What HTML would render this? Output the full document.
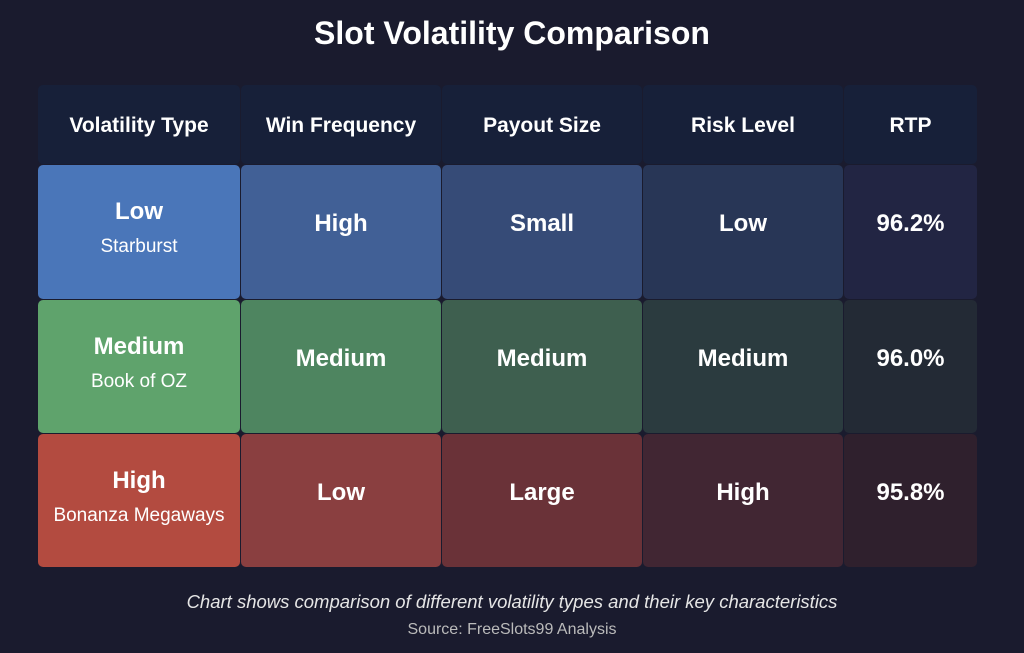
<!DOCTYPE html>
<html><head><meta charset="utf-8"><style>
body{margin:0;width:1024px;height:653px;background:#1a1b2e;font-family:"Liberation Sans",sans-serif;color:#fff;position:relative;overflow:hidden}
.t{position:absolute;top:15px;left:0;width:1024px;text-align:center;font-size:32px;font-weight:bold}
.c{position:absolute;border-radius:5px;display:flex;flex-direction:column;align-items:center;justify-content:center;font-weight:bold;font-size:24px;box-sizing:border-box;padding-bottom:16px}
.h{font-size:21px;background:#172039;padding-bottom:0;padding-top:2px}
.ty{padding-bottom:8px}
.s{font-size:19px;font-weight:normal;margin-top:10px}
.cap{position:absolute;top:591px;width:1024px;text-align:center;font-style:italic;font-size:18.5px;color:#e6e6e6}
.src{position:absolute;top:621px;width:1024px;text-align:center;font-size:16px;color:#bbb}
</style></head><body>
<div class="t">Slot Volatility Comparison</div>
<div id="g"></div>
<div class="cap">Chart shows comparison of different volatility types and their key characteristics</div>
<div class="src">Source: FreeSlots99 Analysis</div>
<script>
const headers=["Volatility Type","Win Frequency","Payout Size","Risk Level","RTP"];
const types=["Low","Medium","High"];
const examples=["Starburst","Book of OZ","Bonanza Megaways"];
const winFreq=["High","Medium","Low"];
const payout=["Small","Medium","Large"];
const risk=["Low","Medium","High"];
const rtp=[96.2,96.0,95.8];
const colors=[["#4a76b9","#416096","#364b77","#283656","#222543"],["#5fa36c","#4e8560","#3e5f4f","#2b3b3f","#232a35"],["#b34b40","#8a3f40","#6a3238","#412633","#2f202d"]];
const xs=[38,241,442,643,844,978],ys=[85,165,300,434,568];
const g=document.getElementById('g');
function cell(ci,ri,html,cls,bg,name){const d=document.createElement('div');d.className='c '+cls;
d.style.left=xs[ci]+'px';d.style.top=ys[ri]+'px';d.style.width=(xs[ci+1]-xs[ci]-1)+'px';d.style.height=(ys[ri+1]-ys[ri]-1)+'px';
if(bg)d.style.background=bg;d.innerHTML=html;


g.appendChild(d);}
headers.forEach((h,i)=>cell(i,0,h,'h',null,'header-'+h.toLowerCase().replace(/ /g,'-')));
types.forEach((t,r)=>{
cell(0,r+1,t+'<div class="s">'+examples[r]+'</div>','ty',colors[r][0],'type-'+t.toLowerCase());
cell(1,r+1,winFreq[r],'',colors[r][1],'win-frequency-'+t.toLowerCase());
cell(2,r+1,payout[r],'',colors[r][2],'payout-size-'+t.toLowerCase());
cell(3,r+1,risk[r],'',colors[r][3],'risk-level-'+t.toLowerCase());
cell(4,r+1,rtp[r].toFixed(1)+'%','',colors[r][4],'rtp-'+t.toLowerCase());
});
</script>
</body></html>
